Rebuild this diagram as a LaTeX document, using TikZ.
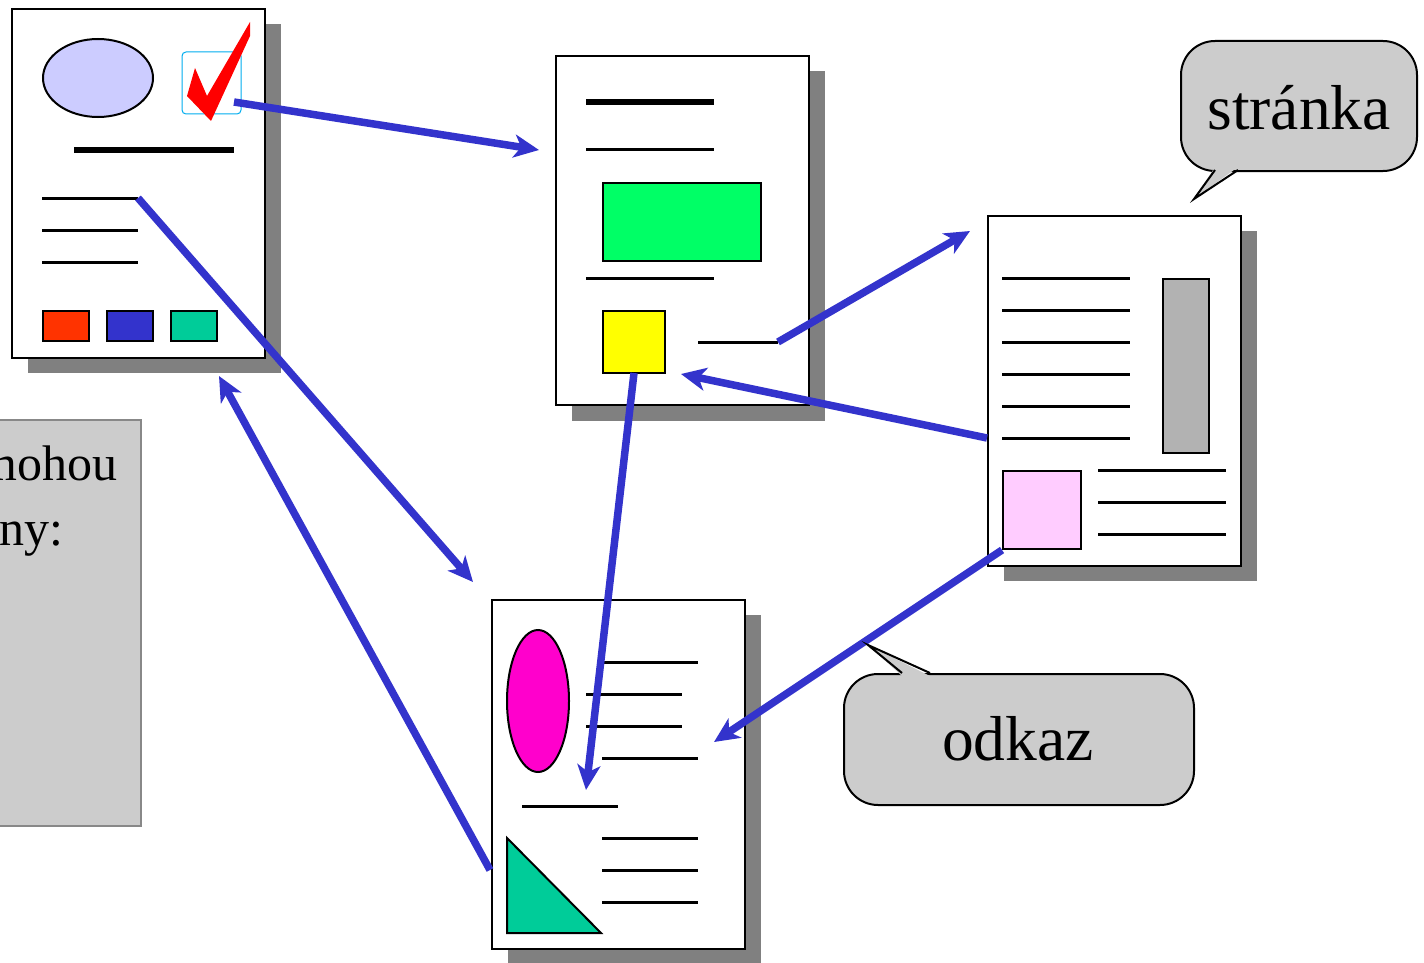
\documentclass[tikz,border=0pt]{standalone}
\usepackage{fontspec}
\setmainfont{Liberation Serif}
\usetikzlibrary{arrows.meta,shapes.geometric}
\definecolor{linkblue}{HTML}{3333CC}
\definecolor{shadowgray}{HTML}{808080}
\definecolor{callgray}{HTML}{CCCCCC}
\definecolor{lilac}{HTML}{CCCCFF}
\definecolor{redsq}{HTML}{FF3300}
\definecolor{bluesq}{HTML}{3333CC}
\definecolor{tealsq}{HTML}{00CC99}
\definecolor{greenrect}{HTML}{00FF66}
\definecolor{yellowsq}{HTML}{FFFF00}
\definecolor{graybar}{HTML}{B2B2B2}
\definecolor{pinksq}{HTML}{FFCCFF}
\definecolor{magell}{HTML}{FF00CC}
\definecolor{boxedge}{HTML}{888888}
\begin{document}
\begin{tikzpicture}[x=1pt,y=-1pt,
  page/.style={draw=black, line width=2pt, fill=white, inner sep=0pt, anchor=north west, minimum width=253pt, minimum height=349pt},
  pageshadow/.style={fill=shadowgray},
  txtline/.style={line width=3pt},
  boldline/.style={line width=6pt},
  shapebox/.style={draw=black, line width=2pt},
  link/.style={draw=linkblue, line width=7.5pt, -{Stealth[length=25pt,width=23pt,inset=7pt]}},
  callout/.style={draw=black, line width=2pt, fill=callgray, rounded corners=34pt, inner sep=0pt},
  bigtext/.style={font=\fontsize{63.5}{76}\selectfont, inner sep=0pt},
  boxtext/.style={font=\fontsize{50}{65}\selectfont, inner sep=0pt}]
\clip (0,0) rectangle (1424,963);
\fill[white] (0,0) rectangle (1424,963);

% left gray box (cut off)
\node[draw=boxedge, line width=2pt, fill=callgray, anchor=north east, minimum width=300pt, minimum height=406pt, inner sep=0pt] (leftbox) at (142,419) {};
\node[boxtext, anchor=base east] (lefttxtA) at (118,480) {mohou};
\node[boxtext, anchor=base east] (lefttxtB) at (64,545) {ny:};

% ---------- page A ----------
\fill[pageshadow] (28,24) rectangle (281,373);
\node[page] (pA) at (11,8) {};
\node[shapebox, ellipse, fill=lilac, minimum width=110pt, minimum height=78pt, inner sep=0pt] (pAell) at (98,78) {};
\draw[cyan, line width=1pt, rounded corners=4pt] (182,52) rectangle (241,114);
\fill[red] (187,96) -- (195,68) -- (207,96) -- (250,22) -- (250,36) -- (211,121) -- cycle;
\draw[boldline] (74,150) -- (234,150);
\foreach \y in {198,230,262} \draw[txtline] (42,\y) -- (138,\y);
\draw[shapebox, fill=redsq] (43,311) rectangle (89,341);
\draw[shapebox, fill=bluesq] (107,311) rectangle (153,341);
\draw[shapebox, fill=tealsq] (171,311) rectangle (217,341);

% ---------- page B ----------
\fill[pageshadow] (572,71) rectangle (825,421);
\node[page] (pB) at (555,55) {};
\draw[boldline] (586,102) -- (714,102);
\draw[txtline] (586,150) -- (714,150);
\draw[shapebox, fill=greenrect] (603,183) rectangle (761,261);
\draw[txtline] (586,278) -- (714,278);
\draw[shapebox, fill=yellowsq] (603,311) rectangle (665,373);
\draw[txtline] (698,342) -- (778,342);

% ---------- page C ----------
\fill[pageshadow] (1004,231) rectangle (1257,581);
\node[page, minimum height=350pt] (pC) at (987,215) {};
\foreach \y in {278,310,342,374,406,438} \draw[txtline] (1002,\y) -- (1130,\y);
\draw[shapebox, fill=graybar] (1163,279) rectangle (1209,453);
\draw[shapebox, fill=pinksq] (1003,471) rectangle (1081,549);
\foreach \y in {470,502,534} \draw[txtline] (1098,\y) -- (1226,\y);

% ---------- page D ----------
\fill[pageshadow] (508,615) rectangle (761,963);
\node[page] (pD) at (491,599) {};
\node[shapebox, ellipse, fill=magell, minimum width=62pt, minimum height=142pt, inner sep=0pt] (pDell) at (538,701) {};
\draw[txtline] (602,662) -- (698,662);
\draw[txtline] (586,694) -- (682,694);
\draw[txtline] (586,726) -- (682,726);
\draw[txtline] (602,758) -- (698,758);
\draw[txtline] (522,806) -- (618,806);
\foreach \y in {838,870,902} \draw[txtline] (602,\y) -- (698,\y);
\draw[shapebox, fill=tealsq, line join=miter] (507,838) -- (507,933) -- (601,933) -- cycle;

% ---------- link endpoints ----------
\coordinate (a1s) at (234,102);  \coordinate (a1e) at (539,150);
\coordinate (a2s) at (138,198);  \coordinate (a2e) at (473,582);
\coordinate (a3s) at (490,870);  \coordinate (a3e) at (219,376);
\coordinate (a4s) at (634,373);  \coordinate (a4e) at (586,790);
\coordinate (a5s) at (778,342);  \coordinate (a5e) at (970,231);
\coordinate (a6s) at (987,438);  \coordinate (a6e) at (681,374);
\coordinate (a7s) at (1002,550); \coordinate (a7e) at (714,742);

\draw[link] (a1s) -- (a1e);
\draw[link] (a2s) -- (a2e);
\draw[link] (a3s) -- (a3e);
\draw[link] (a4s) -- (a4e);
\draw[link] (a5s) -- (a5e);
\draw[link] (a6s) -- (a6e);
\draw[link] (a7s) -- (a7e);

% ---------- callout: stranka ----------
\node[callout, anchor=north west, minimum width=236pt, minimum height=130pt] (strBox) at (1180,40) {};
\coordinate (strTip) at (1194,199);
\fill[callgray] (1215,167) -- (strTip) -- (1238,167) -- cycle;
\draw[line width=2pt, line join=miter] (1215,170) -- (strTip) -- (1238,170);
\node[bigtext, anchor=base] (strTxt) at (1299,130) {stránka};

% ---------- callout: odkaz ----------
\node[callout, anchor=north west, minimum width=350pt, minimum height=131pt] (odkBox) at (843,673) {};
\coordinate (odkTip) at (868,645);
\fill[callgray] (902,676) -- (odkTip) -- (930,676) -- cycle;
\draw[line width=2pt, line join=miter] (902,673) -- (odkTip) -- (930,673);
\node[bigtext, anchor=base] (odkTxt) at (1018,760) {odkaz};
\end{tikzpicture}
\end{document}
